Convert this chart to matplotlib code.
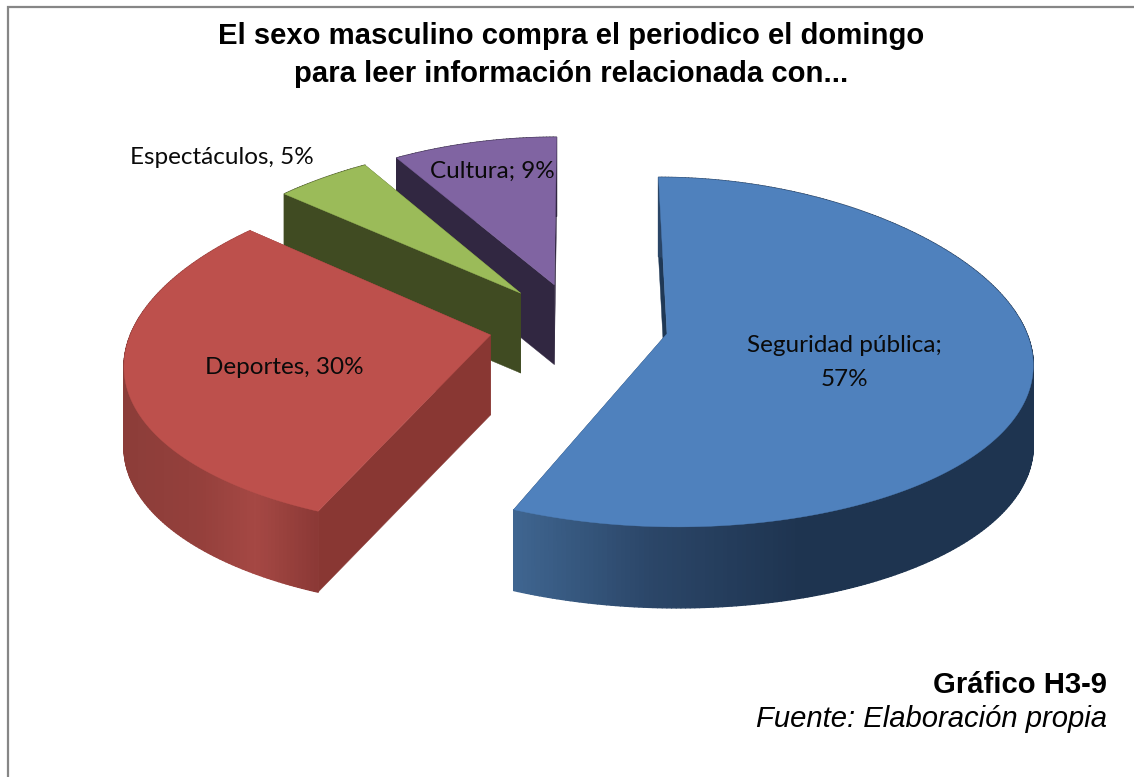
import numpy as np
import matplotlib
matplotlib.use("Agg")
import matplotlib.pyplot as plt
from matplotlib.collections import PolyCollection
from matplotlib.colors import to_rgb

categories = ["Seguridad pública", "Deportes", "Espectáculos", "Cultura"]
values = [57, 30, 5, 9]
labels = ["Seguridad pública;\n57%", "Deportes, 30%", "Espectáculos, 5%", "Cultura; 9%"]
top_colors = ["#4f81bd", "#bd504c", "#9bbb59", "#8064a2"]
cut_colors = ["#1f3855", "#893733", "#404b22", "#312741"]
side_stops = [
    [(515, "#3f6590"), (650, "#2b4668"), (800, "#1e3450"), (1040, "#1e3450")],
    [(124, "#8c3d39"), (200, "#95403c"), (255, "#a54844"), (320, "#8a3835")],
    [(270, "#404b22"), (530, "#404b22")],
    [(390, "#312741"), (560, "#312741")],
]

CX, CY, RX, RY, PERSP, EXPL, DEPTH = 578.5, 325, 358, 171, 0.105, 0.251, 80


def project(X, Y, depth=0.0):
    s = 1.0 / (1.0 - PERSP * Y)
    return CX + RX * X * s, CY + RY * Y * s + depth * (0.9 + 0.1 * s)


def ramp(stops, x):
    xs = [p[0] for p in stops]
    cs = np.array([to_rgb(p[1]) for p in stops])
    return [np.interp(x, xs, cs[:, i]) for i in range(3)]


fig = plt.figure(figsize=(11.34, 7.77), dpi=100)
ax = fig.add_axes([0, 0, 1, 1])
ax.set_xlim(0, 1134)
ax.set_ylim(777, 0)
ax.axis("off")

ax.plot([8, 8, 1134], [777, 6.5, 6.5], color="#868686", lw=1.6, solid_joinstyle="miter", zorder=1)

fractions = np.array(values) / sum(values)
edges = np.concatenate([[0], np.cumsum(fractions) * 2 * np.pi])

for i in [3, 2, 0, 1]:
    a0, a1 = edges[i], edges[i + 1]
    mid = (a0 + a1) / 2
    ox, oy = EXPL * np.sin(mid), -EXPL * np.cos(mid)
    t = np.linspace(a0, a1, max(30, int((a1 - a0) * 90)))
    uy = -np.cos(t)
    widen = 1 + 0.06 * uy - 0.02 * uy ** 2
    ax_x, ax_y = ox + np.sin(t) * widen, oy + uy
    apex = project(ox, oy)
    apex_d = project(ox, oy, DEPTH)
    xa, ya = project(ax_x, ax_y)
    xb, yb = project(ax_x, ax_y, DEPTH)
    z = 10 + [3, 4, 2, 1][i] * 3
    # cut faces
    for k in (0, -1):
        face = [apex, (xa[k], ya[k]), (xb[k], yb[k]), apex_d]
        ax.fill(*zip(*face), color=cut_colors[i], lw=0.3, zorder=z)
    # outer rim
    quads = [[(xa[j], ya[j]), (xa[j + 1], ya[j + 1]), (xb[j + 1], yb[j + 1]), (xb[j], yb[j])]
             for j in range(len(t) - 1)]
    cols = [ramp(side_stops[i], (xa[j] + xa[j + 1]) / 2) for j in range(len(t) - 1)]
    ax.add_collection(PolyCollection(quads, facecolors=cols, edgecolors=cols, linewidths=1.0, zorder=z + 1))
    # top
    ax.fill(np.r_[apex[0], xa], np.r_[apex[1], ya], color=top_colors[i], lw=0.3, zorder=z + 2)

lab_font = dict(family="Lato", fontsize=17.5, color="#0a0a0a", zorder=40)
ax.text(844, 362.5, labels[0], ha="center", va="center", linespacing=1.8, **lab_font)
ax.text(284, 368, labels[1], ha="center", va="center", **lab_font)
ax.text(222, 158, labels[2], ha="center", va="center", **lab_font)
ax.text(492, 171, labels[3], ha="center", va="center", **lab_font)

ax.text(571, 55, "El sexo masculino compra el periodico el domingo\npara leer información relacionada con...",
        ha="center", va="center", family="Liberation Sans", fontweight="bold", fontsize=21.1,
        color="black", linespacing=1.44, zorder=40)
ax.text(1107, 685, "Gráfico H3-9", ha="right", va="center", family="Liberation Sans",
        fontweight="bold", fontsize=21.1, color="black", zorder=40)
ax.text(1107, 719, "Fuente: Elaboración propia", ha="right", va="center", family="Liberation Sans",
        fontstyle="italic", fontsize=21.1, color="black", zorder=40)

fig.savefig("out.png", dpi=100, facecolor="white")
